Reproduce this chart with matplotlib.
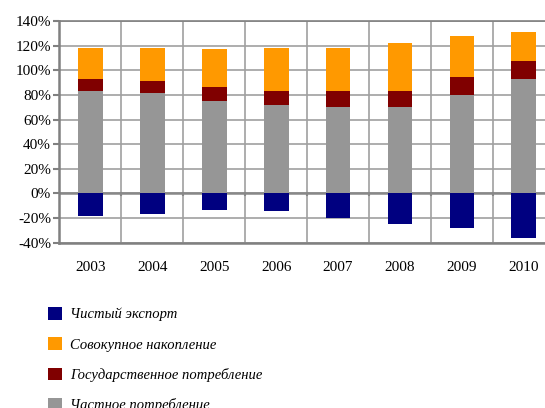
import matplotlib.pyplot as plt
from matplotlib.patches import Patch
from matplotlib.ticker import FuncFormatter
import numpy as np

plt.rcParams['font.family'] = ['Liberation Serif', 'DejaVu Serif']

years = ['2003', '2004', '2005', '2006', '2007', '2008', '2009', '2010']
# shares of GDP, %
private_cons = [83.3, 81.4, 75.1, 71.9, 70.2, 70.2, 80.1, 93.2]
gov_cons = [9.9, 10.1, 11.5, 11.4, 13.1, 13.1, 14.7, 14.7]
accumulation = [25.1, 26.8, 30.3, 35.0, 35.0, 38.6, 33.3, 23.5]
net_export = [-18.0, -16.4, -13.1, -14.5, -19.7, -24.6, -27.9, -36.1]

labels = ['Чистый экспорт', 'Совокупное накопление',
          'Государственное потребление', 'Частное потребление']
colors = ['#000080', '#FF9900', '#800000', '#969696']

fig = plt.figure(figsize=(5.45, 4.08), dpi=100)
ax = fig.add_axes([0.109, 0.405, 0.909, 0.5435])

x = np.arange(len(years))
w = 0.4
priv = np.array(private_cons)
gov = np.array(gov_cons)
acc = np.array(accumulation)

ax.bar(x, priv, w, color=colors[3], zorder=3)
ax.bar(x, gov, w, bottom=priv, color=colors[2], zorder=3)
ax.bar(x, acc, w, bottom=priv + gov, color=colors[1], zorder=3)
ax.bar(x, net_export, w, color=colors[0], zorder=3)

ax.set_xlim(-0.5, len(years) - 0.5)
ax.set_ylim(-40, 140)
ax.set_yticks(np.arange(-40, 141, 20))
ax.yaxis.set_major_formatter(FuncFormatter(lambda v, p: f'{v:.0f}%'))

ax.set_xticks(x)
ax.set_xticklabels(years)
ax.set_xticks(np.arange(0.5, len(years) - 0.5, 1), minor=True)
ax.tick_params(axis='x', which='both', length=0, pad=13, labelsize=11)
ax.tick_params(axis='y', length=4, width=1.5, color='#808080', pad=2, labelsize=11)

ax.grid(axis='y', which='major', color='#a0a0a0', lw=1.2, zorder=0)
ax.grid(axis='x', which='minor', color='#a0a0a0', lw=1.2, zorder=0)
ax.axhline(0, color='#888888', lw=1.8, zorder=2)
# small ticks on the zero line between categories
for b in np.arange(0.5, len(years) - 0.5, 1):
    ax.plot([b, b], [0, -1.5], color='#888888', lw=1.5, zorder=2)

for side in ['left', 'bottom', 'top']:
    ax.spines[side].set_color('#808080')
    ax.spines[side].set_linewidth(1.8)
ax.spines['top'].set_linewidth(1.2)
ax.spines['right'].set_visible(False)

handles = [Patch(facecolor=c) for c in colors]
fig.legend(handles, labels, loc='upper left', bbox_to_anchor=(0.077, 0.262),
           frameon=False, handlelength=0.95, handleheight=0.95, handletextpad=0.6,
           labelspacing=1.1, borderaxespad=0,
           prop={'family': 'Liberation Serif', 'style': 'italic', 'size': 10.5})

fig.savefig('out.png', dpi=100)
